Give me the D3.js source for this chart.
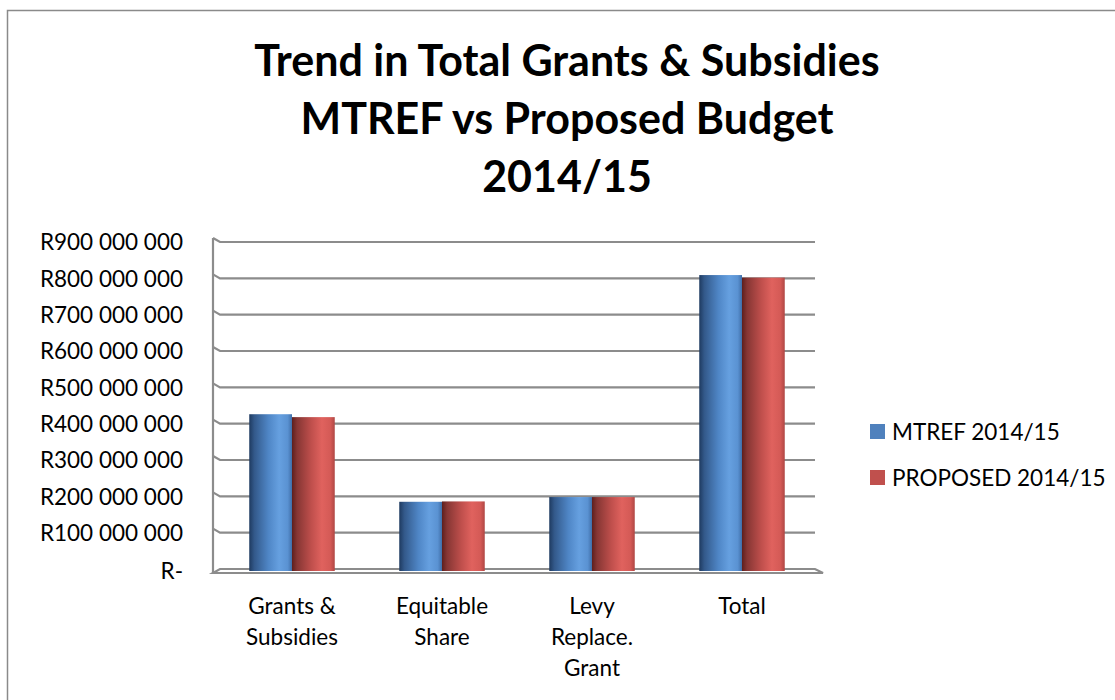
<!DOCTYPE html>
<html>
<head>
<meta charset="utf-8">
<script src="https://cdn.jsdelivr.net/npm/d3@7"></script>
<style>
  body { margin: 0; background: #fff; }
  text { font-family: Lato, "Open Sans", sans-serif; fill: #000; }
</style>
</head>
<body>
<div id="chart"></div>
<script>
const categories = [
    ["Grants &", "Subsidies"],
    ["Equitable", "Share"],
    ["Levy", "Replace.", "Grant"],
    ["Total"]
]
const seriesNames = ["MTREF 2014/15", "PROPOSED 2014/15"]
const mtref = [426000000, 185000000, 198000000, 809000000]
const proposed = [418000000, 186000000, 198000000, 802000000]
const yTicks = [0, 100000000, 200000000, 300000000, 400000000, 500000000, 600000000, 700000000, 800000000, 900000000]
const titleLines = ["Trend in Total Grants & Subsidies", "MTREF vs Proposed Budget", "2014/15"]

const W = 1115, H = 700;
const plot = { left: 220, right: 815, top: 242, bottom: 569 };
const depth = { dx: 7, dy: 4 };

const svg = d3.select("#chart")
    .append("svg")
    .attr("width", W)
    .attr("height", H);

// gradients for the cylinder look
const defs = svg.append("defs");
const gradStops = [
    [["0%", "#1e3a60"], ["12%", "#33598a"], ["45%", "#4f86c6"], ["70%", "#66a0e0"], ["90%", "#5a92d2"], ["100%", "#3f6ea8"]],
    [["0%", "#5e1f1d"], ["12%", "#863634"], ["45%", "#bf4f4c"], ["70%", "#e0625e"], ["90%", "#d45a56"], ["100%", "#b04744"]]
];
gradStops.forEach((stops, i) => {
    const g = defs.append("linearGradient")
        .attr("id", "grad" + i)
        .attr("x1", "0%").attr("x2", "100%")
        .attr("y1", "0%").attr("y2", "0%");
    stops.forEach(s => g.append("stop").attr("offset", s[0]).attr("stop-color", s[1]));
});
const legendColors = ["#4f81bd", "#c0504d"];

// outer chart border
svg.append("rect")
    .attr("x", 7.5).attr("y", 10.5)
    .attr("width", 1120).attr("height", 720)
    .attr("fill", "none")
    .attr("stroke", "#8a8a8a")
    .attr("stroke-width", 1.5);

// title
svg.append("g")
    .selectAll("text")
    .data(titleLines)
    .join("text")
    .attr("x", 567)
    .attr("y", (d, i) => 76 + i * 58)
    .attr("text-anchor", "middle")
    .attr("font-weight", "bold")
    .attr("font-size", 43)
    .text(d => d);

const y = d3.scaleLinear()
    .domain([0, 900000000])
    .range([plot.bottom, plot.top]);

const x = d3.scaleBand()
    .domain(d3.range(categories.length))
    .range([plot.left - 3, plot.right + 2])
    .paddingInner(0.43)
    .paddingOuter(0.215);

const xSub = d3.scaleBand()
    .domain([0, 1])
    .range([0, x.bandwidth()]);

// wall and gridlines
const grid = svg.append("g")
    .attr("fill", "none")
    .attr("stroke", "#8c8c8c")
    .attr("stroke-width", 2.2);

grid.append("line")
    .attr("x1", plot.left - depth.dx).attr("x2", plot.left - depth.dx)
    .attr("y1", plot.top - depth.dy).attr("y2", plot.bottom + depth.dy);

grid.selectAll(".gridline")
    .data(yTicks.filter(t => t > 0))
    .join("path")
    .attr("class", "gridline")
    .attr("d", d => `M${plot.left - depth.dx},${y(d) - depth.dy}L${plot.left},${y(d)}L${plot.right},${y(d)}`);

// floor
grid.append("path")
    .attr("d", `M${plot.left - depth.dx},${plot.bottom + depth.dy}L${plot.left},${plot.bottom}L${plot.right},${plot.bottom}L${plot.right + 8},${plot.bottom + depth.dy}Z`);

// y axis labels
const fmt = v => v === 0 ? "R-" : "R" + d3.format(",")(v).replace(/,/g, " ");
const yAxis = d3.axisLeft(y)
    .tickValues(yTicks)
    .tickFormat(fmt)
    .tickSize(0)
    .tickPadding(0);

svg.append("g")
    .attr("transform", `translate(183,0)`)
    .call(yAxis)
    .call(g => g.select(".domain").remove())
    .call(g => g.selectAll("text")
        .attr("font-family", "Lato, 'Open Sans', sans-serif")
        .attr("font-size", 22.5)
        .attr("fill", "#000")
        .attr("dy", "0.35em")
        .attr("y", d => d === 0 ? 2 : 0));

// bars
const data = categories.map((c, i) => ({ i, values: [mtref[i], proposed[i]] }));

svg.append("g")
    .selectAll("g")
    .data(data)
    .join("g")
    .attr("transform", d => `translate(${x(d.i)},0)`)
    .selectAll("rect")
    .data(d => d.values.map((v, s) => ({ v, s })))
    .join("rect")
    .attr("x", d => xSub(d.s))
    .attr("width", xSub.bandwidth())
    .attr("y", d => y(d.v))
    .attr("height", d => y(0) + 2 - y(d.v))
    .attr("fill", d => `url(#grad${d.s})`);

// category labels
svg.append("g")
    .selectAll("text")
    .data(data)
    .join("text")
    .attr("text-anchor", "middle")
    .attr("font-size", 22.5)
    .attr("x", d => x(d.i) + x.bandwidth() / 2)
    .each(function (d) {
        d3.select(this).selectAll("tspan")
            .data(categories[d.i])
            .join("tspan")
            .attr("x", x(d.i) + x.bandwidth() / 2)
            .attr("y", (t, k) => 614 + k * 31)
            .text(t => t);
    });

// legend
const legend = svg.append("g")
    .selectAll("g")
    .data(seriesNames)
    .join("g")
    .attr("transform", (d, i) => `translate(870,${424 + i * 46})`);

legend.append("rect")
    .attr("width", 15).attr("height", 15)
    .attr("fill", (d, i) => legendColors[i]);

legend.append("text")
    .attr("x", 22)
    .attr("y", 8)
    .attr("dy", "0.35em")
    .attr("font-size", 22.5)
    .text(d => d);
</script>
</body>
</html>
